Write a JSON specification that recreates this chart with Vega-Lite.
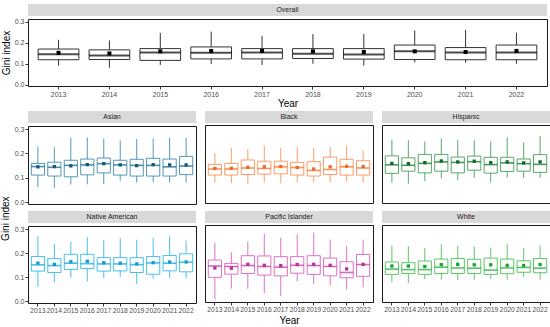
{
"$schema": "https://vega.github.io/schema/vega-lite/v6.json",
"padding": {"left": 0, "top": 4, "right": 4, "bottom": 0},
"background": "white",
"config": {
  "font": "Liberation Sans",
  "view": {"stroke": "#1a1a1a", "strokeWidth": 1},
  "axis": {"grid": false, "domain": false, "tickSize": 3, "labelFontSize": 7, "labelColor": "#4d4d4d", "tickColor": "#333333", "labelPadding": 1, "titleFontSize": 10, "titleFontWeight": "normal", "titleColor": "#000000", "labelAngle": 0},
  "axisY": {"labelOverlap": false, "labelFlush": false},
  "axisX": {"labelOverlap": false},
  "title": {"fontSize": 10, "fontWeight": "normal", "color": "#000000"}
},
"datasets": {
"box": [
{"g":"Overall","yr":"2013","lo":0.091,"q1":0.119,"md":0.145,"q3":0.170,"hi":0.214,"mn":0.152},
{"g":"Overall","yr":"2014","lo":0.081,"q1":0.120,"md":0.139,"q3":0.166,"hi":0.211,"mn":0.149},
{"g":"Overall","yr":"2015","lo":0.094,"q1":0.116,"md":0.153,"q3":0.172,"hi":0.247,"mn":0.159},
{"g":"Overall","yr":"2016","lo":0.098,"q1":0.123,"md":0.152,"q3":0.180,"hi":0.253,"mn":0.161},
{"g":"Overall","yr":"2017","lo":0.094,"q1":0.123,"md":0.153,"q3":0.172,"hi":0.233,"mn":0.161},
{"g":"Overall","yr":"2018","lo":0.100,"q1":0.125,"md":0.148,"q3":0.172,"hi":0.241,"mn":0.159},
{"g":"Overall","yr":"2019","lo":0.091,"q1":0.122,"md":0.144,"q3":0.172,"hi":0.242,"mn":0.156},
{"g":"Overall","yr":"2020","lo":0.106,"q1":0.120,"md":0.159,"q3":0.189,"hi":0.258,"mn":0.159},
{"g":"Overall","yr":"2021","lo":0.105,"q1":0.119,"md":0.153,"q3":0.177,"hi":0.261,"mn":0.156},
{"g":"Overall","yr":"2022","lo":0.100,"q1":0.119,"md":0.153,"q3":0.189,"hi":0.248,"mn":0.161},
{"g":"Asian","yr":"2013","lo":0.062,"q1":0.111,"md":0.146,"q3":0.159,"hi":0.228,"mn":0.145},
{"g":"Asian","yr":"2014","lo":0.057,"q1":0.107,"md":0.143,"q3":0.164,"hi":0.226,"mn":0.146},
{"g":"Asian","yr":"2015","lo":0.072,"q1":0.104,"md":0.151,"q3":0.172,"hi":0.265,"mn":0.149},
{"g":"Asian","yr":"2016","lo":0.073,"q1":0.112,"md":0.153,"q3":0.177,"hi":0.265,"mn":0.154},
{"g":"Asian","yr":"2017","lo":0.074,"q1":0.120,"md":0.158,"q3":0.181,"hi":0.261,"mn":0.158},
{"g":"Asian","yr":"2018","lo":0.088,"q1":0.111,"md":0.153,"q3":0.172,"hi":0.253,"mn":0.153},
{"g":"Asian","yr":"2019","lo":0.080,"q1":0.107,"md":0.151,"q3":0.176,"hi":0.259,"mn":0.150},
{"g":"Asian","yr":"2020","lo":0.082,"q1":0.107,"md":0.151,"q3":0.180,"hi":0.262,"mn":0.154},
{"g":"Asian","yr":"2021","lo":0.080,"q1":0.107,"md":0.145,"q3":0.177,"hi":0.265,"mn":0.153},
{"g":"Asian","yr":"2022","lo":0.080,"q1":0.113,"md":0.148,"q3":0.188,"hi":0.265,"mn":0.153},
{"g":"Black","yr":"2013","lo":0.077,"q1":0.107,"md":0.132,"q3":0.151,"hi":0.197,"mn":0.134},
{"g":"Black","yr":"2014","lo":0.074,"q1":0.107,"md":0.132,"q3":0.155,"hi":0.220,"mn":0.135},
{"g":"Black","yr":"2015","lo":0.070,"q1":0.109,"md":0.136,"q3":0.169,"hi":0.214,"mn":0.139},
{"g":"Black","yr":"2016","lo":0.077,"q1":0.111,"md":0.134,"q3":0.164,"hi":0.228,"mn":0.141},
{"g":"Black","yr":"2017","lo":0.072,"q1":0.112,"md":0.141,"q3":0.164,"hi":0.220,"mn":0.142},
{"g":"Black","yr":"2018","lo":0.076,"q1":0.107,"md":0.138,"q3":0.159,"hi":0.222,"mn":0.138},
{"g":"Black","yr":"2019","lo":0.077,"q1":0.103,"md":0.126,"q3":0.162,"hi":0.218,"mn":0.132},
{"g":"Black","yr":"2020","lo":0.077,"q1":0.109,"md":0.130,"q3":0.181,"hi":0.222,"mn":0.141},
{"g":"Black","yr":"2021","lo":0.081,"q1":0.107,"md":0.141,"q3":0.172,"hi":0.227,"mn":0.143},
{"g":"Black","yr":"2022","lo":0.077,"q1":0.107,"md":0.136,"q3":0.166,"hi":0.209,"mn":0.142},
{"g":"Hispanic","yr":"2013","lo":0.076,"q1":0.114,"md":0.149,"q3":0.186,"hi":0.253,"mn":0.155},
{"g":"Hispanic","yr":"2014","lo":0.072,"q1":0.123,"md":0.147,"q3":0.178,"hi":0.250,"mn":0.154},
{"g":"Hispanic","yr":"2015","lo":0.082,"q1":0.116,"md":0.155,"q3":0.192,"hi":0.245,"mn":0.158},
{"g":"Hispanic","yr":"2016","lo":0.093,"q1":0.123,"md":0.161,"q3":0.192,"hi":0.258,"mn":0.165},
{"g":"Hispanic","yr":"2017","lo":0.085,"q1":0.116,"md":0.159,"q3":0.181,"hi":0.253,"mn":0.161},
{"g":"Hispanic","yr":"2018","lo":0.096,"q1":0.127,"md":0.162,"q3":0.185,"hi":0.250,"mn":0.164},
{"g":"Hispanic","yr":"2019","lo":0.076,"q1":0.115,"md":0.150,"q3":0.180,"hi":0.245,"mn":0.158},
{"g":"Hispanic","yr":"2020","lo":0.096,"q1":0.122,"md":0.157,"q3":0.180,"hi":0.262,"mn":0.161},
{"g":"Hispanic","yr":"2021","lo":0.096,"q1":0.123,"md":0.154,"q3":0.173,"hi":0.241,"mn":0.157},
{"g":"Hispanic","yr":"2022","lo":0.096,"q1":0.118,"md":0.151,"q3":0.191,"hi":0.268,"mn":0.161},
{"g":"Native American","yr":"2013","lo":0.060,"q1":0.125,"md":0.151,"q3":0.186,"hi":0.270,"mn":0.158},
{"g":"Native American","yr":"2014","lo":0.078,"q1":0.119,"md":0.148,"q3":0.177,"hi":0.238,"mn":0.153},
{"g":"Native American","yr":"2015","lo":0.097,"q1":0.132,"md":0.158,"q3":0.195,"hi":0.247,"mn":0.164},
{"g":"Native American","yr":"2016","lo":0.082,"q1":0.136,"md":0.156,"q3":0.195,"hi":0.267,"mn":0.166},
{"g":"Native American","yr":"2017","lo":0.096,"q1":0.125,"md":0.155,"q3":0.181,"hi":0.253,"mn":0.160},
{"g":"Native American","yr":"2018","lo":0.101,"q1":0.126,"md":0.155,"q3":0.181,"hi":0.262,"mn":0.158},
{"g":"Native American","yr":"2019","lo":0.071,"q1":0.119,"md":0.152,"q3":0.181,"hi":0.256,"mn":0.155},
{"g":"Native American","yr":"2020","lo":0.093,"q1":0.112,"md":0.159,"q3":0.186,"hi":0.264,"mn":0.160},
{"g":"Native American","yr":"2021","lo":0.096,"q1":0.126,"md":0.158,"q3":0.190,"hi":0.270,"mn":0.163},
{"g":"Native American","yr":"2022","lo":0.096,"q1":0.122,"md":0.162,"q3":0.197,"hi":0.252,"mn":0.163},
{"g":"Pacific Islander","yr":"2013","lo":0.003,"q1":0.095,"md":0.142,"q3":0.167,"hi":0.238,"mn":0.134},
{"g":"Pacific Islander","yr":"2014","lo":0.048,"q1":0.108,"md":0.140,"q3":0.153,"hi":0.199,"mn":0.133},
{"g":"Pacific Islander","yr":"2015","lo":0.047,"q1":0.111,"md":0.144,"q3":0.185,"hi":0.244,"mn":0.149},
{"g":"Pacific Islander","yr":"2016","lo":0.029,"q1":0.104,"md":0.140,"q3":0.184,"hi":0.277,"mn":0.145},
{"g":"Pacific Islander","yr":"2017","lo":0.016,"q1":0.101,"md":0.137,"q3":0.181,"hi":0.260,"mn":0.144},
{"g":"Pacific Islander","yr":"2018","lo":0.079,"q1":0.112,"md":0.145,"q3":0.181,"hi":0.274,"mn":0.148},
{"g":"Pacific Islander","yr":"2019","lo":0.066,"q1":0.107,"md":0.144,"q3":0.185,"hi":0.281,"mn":0.149},
{"g":"Pacific Islander","yr":"2020","lo":0.062,"q1":0.101,"md":0.140,"q3":0.175,"hi":0.252,"mn":0.145},
{"g":"Pacific Islander","yr":"2021","lo":0.044,"q1":0.093,"md":0.115,"q3":0.160,"hi":0.225,"mn":0.130},
{"g":"Pacific Islander","yr":"2022","lo":0.053,"q1":0.099,"md":0.148,"q3":0.190,"hi":0.252,"mn":0.149},
{"g":"White","yr":"2013","lo":0.074,"q1":0.107,"md":0.129,"q3":0.159,"hi":0.227,"mn":0.142},
{"g":"White","yr":"2014","lo":0.071,"q1":0.111,"md":0.127,"q3":0.156,"hi":0.225,"mn":0.142},
{"g":"White","yr":"2015","lo":0.088,"q1":0.107,"md":0.127,"q3":0.163,"hi":0.218,"mn":0.140},
{"g":"White","yr":"2016","lo":0.085,"q1":0.111,"md":0.137,"q3":0.171,"hi":0.232,"mn":0.148},
{"g":"White","yr":"2017","lo":0.084,"q1":0.111,"md":0.134,"q3":0.173,"hi":0.226,"mn":0.149},
{"g":"White","yr":"2018","lo":0.085,"q1":0.111,"md":0.133,"q3":0.170,"hi":0.223,"mn":0.147},
{"g":"White","yr":"2019","lo":0.088,"q1":0.107,"md":0.125,"q3":0.175,"hi":0.219,"mn":0.147},
{"g":"White","yr":"2020","lo":0.084,"q1":0.110,"md":0.134,"q3":0.171,"hi":0.234,"mn":0.145},
{"g":"White","yr":"2021","lo":0.096,"q1":0.116,"md":0.136,"q3":0.164,"hi":0.218,"mn":0.144},
{"g":"White","yr":"2022","lo":0.085,"q1":0.114,"md":0.133,"q3":0.173,"hi":0.229,"mn":0.148}
]
},
"spacing": 2,
"vconcat": [
 {"spacing": 1, "vconcat": [
  {"width": 519, "height": 12, "view": {"fill": "#d9d9d9", "stroke": null}, "data": {"values": [{"lab": "Overall"}]}, "mark": {"type": "text", "fontSize": 7, "color": "#1a1a1a"}, "encoding": {"text": {"field": "lab"}}},
  {"width": 519, "height": 67, "data": {"name": "box"}, "transform": [{"filter": "datum.g === 'Overall'"}],
   "encoding": {"x": {"field": "yr", "type": "ordinal", "title": "Year", "scale": {"paddingInner": 0.2, "paddingOuter": 0.2}, "axis": {"titlePadding": 1}}},
   "layer": [
    {"mark": {"type": "rule", "color": "#333333"}, "encoding": {"y": {"field": "lo", "type": "quantitative", "title": "Gini index", "scale": {"domain": [-0.006, 0.313], "nice": false, "zero": false}, "axis": {"values": [0, 0.1, 0.2, 0.3], "format": ".1f", "titlePadding": 3}}, "y2": {"field": "hi"}}},
    {"mark": {"type": "bar", "fill": "white", "stroke": "#333333", "strokeWidth": 1}, "encoding": {"y": {"field": "q1", "type": "quantitative", "title": "Gini index", "axis": {"values": [0, 0.1, 0.2, 0.3], "format": ".1f", "titlePadding": 3}}, "y2": {"field": "q3"}}},
    {"mark": {"type": "tick", "color": "#000000", "thickness": 2, "size": 40.7}, "encoding": {"y": {"field": "md", "type": "quantitative", "title": "Gini index", "axis": {"values": [0, 0.1, 0.2, 0.3], "format": ".1f", "titlePadding": 3}}}},
    {"mark": {"type": "point", "shape": "square", "filled": true, "color": "#000000", "size": 16, "opacity": 1}, "encoding": {"y": {"field": "mn", "type": "quantitative", "title": "Gini index", "axis": {"values": [0, 0.1, 0.2, 0.3], "format": ".1f", "titlePadding": 3}}}}
   ]}
 ]},
 {"title": {"text": "Gini index", "orient": "left", "anchor": "middle", "offset": 3}, "spacing": 5, "vconcat": [
  {"spacing": 7, "hconcat": [
   {"spacing": 1, "vconcat": [
    {"width": 168, "height": 12, "view": {"fill": "#d9d9d9", "stroke": null}, "data": {"values": [{"lab": "Asian"}]}, "mark": {"type": "text", "fontSize": 7, "color": "#1a1a1a"}, "encoding": {"text": {"field": "lab"}}},
    {"width": 168, "height": 78, "data": {"name": "box"}, "transform": [{"filter": "datum.g === 'Asian'"}],
     "encoding": {"x": {"field": "yr", "type": "ordinal", "axis": null, "scale": {"paddingInner": 0.2, "paddingOuter": 0.2}}},
     "layer": [
      {"mark": {"type": "rule", "color": "#2b7ea6", "strokeOpacity": 0.8}, "encoding": {"y": {"field": "lo", "type": "quantitative", "title": null, "scale": {"domain": [-0.008, 0.313], "nice": false, "zero": false}, "axis": {"values": [0, 0.1, 0.2, 0.3], "format": ".1f"}}, "y2": {"field": "hi"}}},
      {"mark": {"type": "bar", "fill": "white", "stroke": "#2b7ea6", "strokeOpacity": 0.8, "strokeWidth": 1}, "encoding": {"y": {"field": "q1", "type": "quantitative", "title": null, "axis": {"values": [0, 0.1, 0.2, 0.3], "format": ".1f"}}, "y2": {"field": "q3"}}},
      {"mark": {"type": "tick", "color": "#0b5d87", "thickness": 1.6, "size": 13.2}, "encoding": {"y": {"field": "md", "type": "quantitative", "title": null, "axis": {"values": [0, 0.1, 0.2, 0.3], "format": ".1f"}}}},
      {"mark": {"type": "point", "shape": "square", "filled": true, "color": "#0b5d87", "size": 11, "opacity": 1}, "encoding": {"y": {"field": "mn", "type": "quantitative", "title": null, "axis": {"values": [0, 0.1, 0.2, 0.3], "format": ".1f"}}}}
     ]}
   ]},
   {"spacing": 1, "vconcat": [
    {"width": 168, "height": 12, "view": {"fill": "#d9d9d9", "stroke": null}, "data": {"values": [{"lab": "Black"}]}, "mark": {"type": "text", "fontSize": 7, "color": "#1a1a1a"}, "encoding": {"text": {"field": "lab"}}},
    {"width": 168, "height": 78, "data": {"name": "box"}, "transform": [{"filter": "datum.g === 'Black'"}],
     "encoding": {"x": {"field": "yr", "type": "ordinal", "axis": null, "scale": {"paddingInner": 0.2, "paddingOuter": 0.2}}},
     "layer": [
      {"mark": {"type": "rule", "color": "#fb8b4f", "strokeOpacity": 0.85}, "encoding": {"y": {"field": "lo", "type": "quantitative", "axis": null, "scale": {"domain": [-0.008, 0.313], "nice": false, "zero": false}}, "y2": {"field": "hi"}}},
      {"mark": {"type": "bar", "fill": "white", "stroke": "#fb8b4f", "strokeOpacity": 0.85, "strokeWidth": 1}, "encoding": {"y": {"field": "q1", "type": "quantitative", "axis": null}, "y2": {"field": "q3"}}},
      {"mark": {"type": "tick", "color": "#f06a1e", "thickness": 1.6, "size": 13.2}, "encoding": {"y": {"field": "md", "type": "quantitative", "axis": null}}},
      {"mark": {"type": "point", "shape": "square", "filled": true, "color": "#f06a1e", "size": 11, "opacity": 1}, "encoding": {"y": {"field": "mn", "type": "quantitative", "axis": null}}}
     ]}
   ]},
   {"spacing": 1, "vconcat": [
    {"width": 168, "height": 12, "view": {"fill": "#d9d9d9", "stroke": null}, "data": {"values": [{"lab": "Hispanic"}]}, "mark": {"type": "text", "fontSize": 7, "color": "#1a1a1a"}, "encoding": {"text": {"field": "lab"}}},
    {"width": 168, "height": 78, "data": {"name": "box"}, "transform": [{"filter": "datum.g === 'Hispanic'"}],
     "encoding": {"x": {"field": "yr", "type": "ordinal", "axis": null, "scale": {"paddingInner": 0.2, "paddingOuter": 0.2}}},
     "layer": [
      {"mark": {"type": "rule", "color": "#3d9a50", "strokeOpacity": 0.85}, "encoding": {"y": {"field": "lo", "type": "quantitative", "axis": null, "scale": {"domain": [-0.008, 0.313], "nice": false, "zero": false}}, "y2": {"field": "hi"}}},
      {"mark": {"type": "bar", "fill": "white", "stroke": "#3d9a50", "strokeOpacity": 0.85, "strokeWidth": 1}, "encoding": {"y": {"field": "q1", "type": "quantitative", "axis": null}, "y2": {"field": "q3"}}},
      {"mark": {"type": "tick", "color": "#0a6b22", "thickness": 1.6, "size": 13.2}, "encoding": {"y": {"field": "md", "type": "quantitative", "axis": null}}},
      {"mark": {"type": "point", "shape": "square", "filled": true, "color": "#0a6b22", "size": 11, "opacity": 1}, "encoding": {"y": {"field": "mn", "type": "quantitative", "axis": null}}}
     ]}
   ]}
  ]},
  {"spacing": 7, "hconcat": [
   {"spacing": 1, "vconcat": [
    {"width": 168, "height": 12, "view": {"fill": "#d9d9d9", "stroke": null}, "data": {"values": [{"lab": "Native American"}]}, "mark": {"type": "text", "fontSize": 7, "color": "#1a1a1a"}, "encoding": {"text": {"field": "lab"}}},
    {"width": 168, "height": 77, "data": {"name": "box"}, "transform": [{"filter": "datum.g === 'Native American'"}],
     "encoding": {"x": {"field": "yr", "type": "ordinal", "title": null, "scale": {"paddingInner": 0.2, "paddingOuter": 0.2}, "axis": {"labelFontSize": 6.8}}},
     "layer": [
      {"mark": {"type": "rule", "color": "#28b6e9", "strokeOpacity": 0.85}, "encoding": {"y": {"field": "lo", "type": "quantitative", "title": null, "scale": {"domain": [-0.008, 0.313], "nice": false, "zero": false}, "axis": {"values": [0, 0.1, 0.2, 0.3], "format": ".1f"}}, "y2": {"field": "hi"}}},
      {"mark": {"type": "bar", "fill": "white", "stroke": "#28b6e9", "strokeOpacity": 0.85, "strokeWidth": 1}, "encoding": {"y": {"field": "q1", "type": "quantitative", "title": null, "axis": {"values": [0, 0.1, 0.2, 0.3], "format": ".1f"}}, "y2": {"field": "q3"}}},
      {"mark": {"type": "tick", "color": "#089fd9", "thickness": 1.6, "size": 13.2}, "encoding": {"y": {"field": "md", "type": "quantitative", "title": null, "axis": {"values": [0, 0.1, 0.2, 0.3], "format": ".1f"}}}},
      {"mark": {"type": "point", "shape": "square", "filled": true, "color": "#089fd9", "size": 11, "opacity": 1}, "encoding": {"y": {"field": "mn", "type": "quantitative", "title": null, "axis": {"values": [0, 0.1, 0.2, 0.3], "format": ".1f"}}}}
     ]}
   ]},
   {"spacing": 1, "vconcat": [
    {"width": 168, "height": 12, "view": {"fill": "#d9d9d9", "stroke": null}, "data": {"values": [{"lab": "Pacific Islander"}]}, "mark": {"type": "text", "fontSize": 7, "color": "#1a1a1a"}, "encoding": {"text": {"field": "lab"}}},
    {"width": 168, "height": 77, "data": {"name": "box"}, "transform": [{"filter": "datum.g === 'Pacific Islander'"}],
     "encoding": {"x": {"field": "yr", "type": "ordinal", "title": "Year", "scale": {"paddingInner": 0.2, "paddingOuter": 0.2}, "axis": {"labelFontSize": 6.8, "titlePadding": 3}}},
     "layer": [
      {"mark": {"type": "rule", "color": "#d65bb8", "strokeOpacity": 0.85}, "encoding": {"y": {"field": "lo", "type": "quantitative", "axis": null, "scale": {"domain": [-0.008, 0.313], "nice": false, "zero": false}}, "y2": {"field": "hi"}}},
      {"mark": {"type": "bar", "fill": "white", "stroke": "#d65bb8", "strokeOpacity": 0.85, "strokeWidth": 1}, "encoding": {"y": {"field": "q1", "type": "quantitative", "axis": null}, "y2": {"field": "q3"}}},
      {"mark": {"type": "tick", "color": "#bf2a9d", "thickness": 1.6, "size": 13.2}, "encoding": {"y": {"field": "md", "type": "quantitative", "axis": null}}},
      {"mark": {"type": "point", "shape": "square", "filled": true, "color": "#bf2a9d", "size": 11, "opacity": 1}, "encoding": {"y": {"field": "mn", "type": "quantitative", "axis": null}}}
     ]}
   ]},
   {"spacing": 1, "vconcat": [
    {"width": 168, "height": 12, "view": {"fill": "#d9d9d9", "stroke": null}, "data": {"values": [{"lab": "White"}]}, "mark": {"type": "text", "fontSize": 7, "color": "#1a1a1a"}, "encoding": {"text": {"field": "lab"}}},
    {"width": 168, "height": 77, "data": {"name": "box"}, "transform": [{"filter": "datum.g === 'White'"}],
     "encoding": {"x": {"field": "yr", "type": "ordinal", "title": null, "scale": {"paddingInner": 0.2, "paddingOuter": 0.2}, "axis": {"labelFontSize": 6.8}}},
     "layer": [
      {"mark": {"type": "rule", "color": "#41be4e", "strokeOpacity": 0.85}, "encoding": {"y": {"field": "lo", "type": "quantitative", "axis": null, "scale": {"domain": [-0.008, 0.313], "nice": false, "zero": false}}, "y2": {"field": "hi"}}},
      {"mark": {"type": "bar", "fill": "white", "stroke": "#41be4e", "strokeOpacity": 0.85, "strokeWidth": 1}, "encoding": {"y": {"field": "q1", "type": "quantitative", "axis": null}, "y2": {"field": "q3"}}},
      {"mark": {"type": "tick", "color": "#12a82b", "thickness": 1.6, "size": 13.2}, "encoding": {"y": {"field": "md", "type": "quantitative", "axis": null}}},
      {"mark": {"type": "point", "shape": "square", "filled": true, "color": "#12a82b", "size": 11, "opacity": 1}, "encoding": {"y": {"field": "mn", "type": "quantitative", "axis": null}}}
     ]}
   ]}
  ]}
 ]}
]
}
